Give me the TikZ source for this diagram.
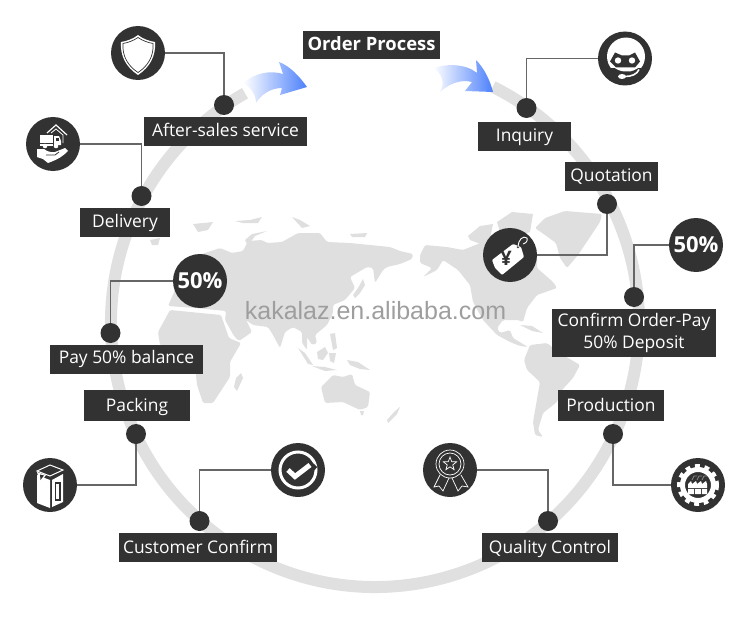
\documentclass[tikz,border=0pt]{standalone}
\usepackage{fontspec}
\setmainfont{Open Sans}
\newfontfamily\markfont{Liberation Sans}
\usepackage{xcolor}
\definecolor{boxdark}{HTML}{323232}
\definecolor{ringgray}{HTML}{E0E0E0}
\definecolor{mapgray}{HTML}{DFDFDF}
\definecolor{linkgray}{HTML}{666666}
\definecolor{arrowblue}{HTML}{4C80FB}
\definecolor{arrowsky}{HTML}{9CCBFA}
\tikzset{
	lbl/.style={fill=boxdark, text=white, inner sep=0pt, minimum width=#1, minimum height=29pt, align=center, font=\fontsize{17.4}{22}\selectfont},
	single/.style={lbl=#1, text height=14pt, text depth=4pt},
	icon/.style={circle, fill=boxdark, text=white, inner sep=0pt, minimum size=54pt, font=\fontsize{22}{22}\selectfont\bfseries},
	dot/.style={circle, fill=boxdark, inner sep=0pt, minimum size=20pt},
	link/.style={draw=linkgray, line width=1.2pt},
	flow/.style={left color=white, middle color=arrowsky, right color=arrowblue},
}
\begin{document}
\begin{tikzpicture}[x=1pt, y=-1pt]
		\useasboundingbox (0,0) rectangle (750,618);
		% world map
		\fill[mapgray, rounded corners=1.5pt] (190,258) -- (220,248) -- (232,253) -- (243,251) -- (248,241) -- (262,240) -- (267,243) -- (282,242) -- (298,233) -- (320,233) -- (327,242) -- (350,243) -- (370,245) -- (390,247) -- (400,251) -- (413,254) -- (412,259) -- (400,264) -- (387,267) -- (383,270) -- (375,283) -- (373,268) -- (367,267) -- (350,277) -- (355,288) -- (345,300) -- (333,305) -- (333,313) -- (327,325) -- (315,335) -- (317,343) -- (312,345) -- (307,337) -- (307,350) -- (302,343) -- (302,332) -- (293,327) -- (285,332) -- (280,348) -- (273,335) -- (268,327) -- (253,325) -- (246,320) -- (252,332) -- (239,341) -- (234,336) -- (225,320) -- (226,311) -- (195,308) -- (168,306) -- (175,290) -- cycle;
		\fill[mapgray, rounded corners=1.5pt] (170,310) -- (221,315) -- (229,338) -- (241,343) -- (230,362) -- (230,377) -- (213,403) -- (203,403) -- (197,385) -- (195,365) -- (180,358) -- (160,345) -- (158,332) -- cycle;
		\fill[mapgray] (241,373) -- (243,378) -- (237,391) -- (234,387) -- (236,378) -- cycle;
		\fill[mapgray] (193,224) -- (213,222) -- (208,230) -- (198,232) -- cycle;
		\fill[mapgray] (235,221) -- (250,220) -- (262,217) -- (258,223) -- (243,223) -- cycle;
		\fill[mapgray] (292,217) -- (300,220) -- (310,226) -- (302,228) -- cycle;
		\fill[mapgray] (350,234) -- (367,233) -- (365,237) -- (352,237) -- cycle;
		\fill[mapgray] (245,240) -- (252,234) -- (267,231) -- (255,236) -- (248,246) -- cycle;
		\fill[mapgray] (150,240) -- (160,238) -- (158,245) -- (152,245) -- cycle;
		% islands of the east
		\fill[mapgray] (298,348) -- (305,353) -- (313,365) -- (308,364) -- cycle;
		\fill[mapgray] (312,366) -- (325,367) -- (337,370) -- (325,371) -- cycle;
		\fill[mapgray] (317,352) -- (325,347) -- (328,353) -- (323,360) -- (318,359) -- cycle;
		\fill[mapgray] (330,334) -- (335,333) -- (337,348) -- (333,350) -- cycle;
		\fill[mapgray] (329,353) -- (336,353) -- (334,363) -- (330,361) -- cycle;
		\fill[mapgray] (347,360) -- (358,362) -- (370,370) -- (360,369) -- (350,365) -- cycle;
		\fill[mapgray] (363,279) -- (365,285) -- (360,293) -- (355,298) -- (353,295) -- (358,288) -- cycle;
		\fill[mapgray, rounded corners=1.5pt] (321,387) -- (333,375) -- (343,377) -- (352,374) -- (355,385) -- (370,392) -- (368,407) -- (360,410) -- (343,402) -- (325,403) -- cycle;
		\fill[mapgray] (360,411) -- (364,411) -- (363,415) -- (361,415) -- cycle;
		\fill[mapgray] (400,407) -- (397,414) -- (388,423) -- (387,420) -- (395,411) -- cycle;
		% the other side
		\fill[mapgray, rounded corners=1.5pt] (420,255) -- (425,245) -- (447,247) -- (463,250) -- (483,242) -- (510,240) -- (537,255) -- (537,268) -- (553,282) -- (557,288) -- (537,295) -- (527,308) -- (523,322) -- (518,320) -- (503,320) -- (497,328) -- (500,333) -- (510,330) -- (513,338) -- (528,347) -- (520,346) -- (510,342) -- (497,335) -- (483,320) -- (473,302) -- (470,285) -- (458,270) -- (443,260) -- (437,270) -- (423,277) -- (432,268) -- (420,263) -- cycle;
		\fill[mapgray] (468,236) -- (480,226) -- (493,224) -- (490,238) -- (483,245) -- (470,240) -- cycle;
		\fill[mapgray] (497,222) -- (512,212) -- (533,214) -- (530,232) -- (510,240) -- (500,232) -- cycle;
		\fill[mapgray, rounded corners=1.5pt] (535,228) -- (545,218) -- (565,211) -- (602,214) -- (600,222) -- (590,237) -- (578,255) -- (567,268) -- (560,258) -- (556,243) -- (545,235) -- cycle;
		\fill[mapgray] (520,325) -- (532,326) -- (543,333) -- (532,331) -- cycle;
		\fill[mapgray, rounded corners=1.5pt] (524,360) -- (530,345) -- (547,343) -- (558,352) -- (580,365) -- (573,378) -- (562,390) -- (557,402) -- (543,413) -- (538,430) -- (543,437) -- (535,435) -- (533,422) -- (540,382) -- (527,370) -- cycle;
		% ring
		\draw[ringgray, line width=12pt] (375,323) ++(-63.5:264) arc (-63.5:240.5:264);
		% arrows
		\shade[flow] (243,83) .. controls (255,73) and (270,70) .. (283,74) -- (279,62) .. controls (290,66) and (300,77) .. (307,87) -- (280,95) -- (282,88) .. controls (270,88) and (261,95) .. (256,103) .. controls (256,96) and (252,88) .. (243,83) -- cycle;
		\shade[flow] (433,68) .. controls (445,64) and (465,63) .. (477,73) -- (476,60) .. controls (484,68) and (490,80) .. (493,92) -- (465,91) -- (472,82) .. controls (460,79) and (449,84) .. (440,92) .. controls (445,84) and (443,74) .. (433,68) -- cycle;
		\node[text=black!38, font=\markfont\fontsize{25}{25}\selectfont] (mark) at (375.5,311) {kakalaz.en.alibaba.com};
		% titles
		\node[single=137pt, minimum height=28pt, text height=15pt, font=\fontsize{18.4}{23}\selectfont\bfseries] (order) at (371.5,45) {Order Process};
		\node[single=163pt] (after) at (225.5,131) {After-sales service};
		\node[single=90pt] (delivery) at (125,222.5) {Delivery};
		\node[single=153pt, text height=12pt] (balance) at (126.5,359.5) {Pay 50\% balance};
		\node[single=106pt, minimum height=31pt, text height=16pt] (packing) at (137,405.5) {Packing};
		\node[single=158pt, text height=16pt] (customer) at (198,547.5) {Customer Confirm};
		\node[single=136pt, text height=16pt] (quality) at (550,547.5) {Quality Control};
		\node[single=106pt, minimum height=31pt, text height=16pt] (production) at (611,405.5) {Production};
		\node[lbl=164pt, minimum height=48pt] (confirm) at (634,333) {Confirm Order-Pay\\50\% Deposit};
		\node[single=93pt, text height=13pt] (quotation) at (611.5,176.5) {Quotation};
		\node[single=93pt] (inquiry) at (524.5,136.5) {Inquiry};
		% icons and dots
		\node[icon] (shield) at (138,53) {};
		\node[icon] (truck) at (53,144) {};
		\node[icon] (halfleft) at (200,281) {50\%};
		\node[icon] (carton) at (50,485) {};
		\node[icon] (tick) at (298,470) {};
		\node[icon] (medal) at (450,470) {};
		\node[icon] (factory) at (698,485) {};
		\node[icon] (halfright) at (696,245) {50\%};
		\node[icon] (tag) at (510,255) {};
		\node[icon] (headset) at (625,58.5) {};
		\node[dot] (dotafter) at (224,105) {};
		\node[dot] (dotdelivery) at (141.5,196) {};
		\node[dot] (dotbalance) at (110.5,333) {};
		\node[dot] (dotpacking) at (136,434) {};
		\node[dot] (dotcustomer) at (199.5,521) {};
		\node[dot] (dotquality) at (548,521) {};
		\node[dot] (dotproduction) at (613,434) {};
		\node[dot] (dotconfirm) at (634,297) {};
		\node[dot] (dotquotation) at (607,204) {};
		\node[dot] (dotinquiry) at (526.5,108) {};
		\draw[link] (dotafter) |- (shield);
		\draw[link] (dotdelivery) |- (truck);
		\draw[link] (dotbalance) |- (halfleft);
		\draw[link] (dotpacking) |- (carton);
		\draw[link] (dotcustomer) |- (tick);
		\draw[link] (dotquality) |- (medal);
		\draw[link] (dotproduction) |- (factory);
		\draw[link] (dotconfirm) |- (halfright);
		\draw[link] (dotquotation) |- (tag);
		\draw[link] (dotinquiry) |- (headset);
		% shield
		\begin{scope}[shift={(shield)}]
			\fill[white] (0,-18) .. controls (-5,-14) and (-11,-12) .. (-17,-11) .. controls (-18,3) and (-12,14) .. (0,22) .. controls (12,14) and (18,3) .. (17,-11) .. controls (11,-12) and (5,-14) .. (0,-18) -- cycle;
			\draw[boxdark, line width=0.7pt] (0,-15.5) .. controls (-5,-12) and (-10,-10.5) .. (-15,-9.5) .. controls (-16,3) and (-10,13) .. (0,19.5) .. controls (10,13) and (16,3) .. (15,-9.5) .. controls (10,-10.5) and (5,-12) .. (0,-15.5) -- cycle;
		\end{scope}
		% truck in a hand
		\begin{scope}[shift={(truck)}]
			\draw[white, line width=1.2pt] (-6,-11) -- (3,-19) -- (14,-9);
			\draw[white, line width=0.8pt] (-2,-11) -- (3,-15) -- (10,-9) -- (10,-1);
			\fill[white] (-13,-9) rectangle (0,-1);
			\fill[white] (1,-8) -- (6,-8) -- (8,-3) -- (8,1) -- (1,1) -- cycle;
			\fill[white] (-13,0) rectangle (0,1.5);
			\fill[white] (-8,2) circle (2.3) (3,2) circle (2.3);
			\fill[boxdark] (3,-6.5) rectangle (5.5,-3.5);
			\fill[white] (-16,5) -- (-9,5) .. controls (-6,7) and (-4,8) .. (-2,8) -- (2,8) -- (12,4) -- (15,7) .. controls (10,12) and (6,15) .. (-5,19) -- (-10,15) -- (-16,13) -- cycle;
			\draw[boxdark, line width=0.8pt] (-7,11) -- (2,11) -- (6,8);
		\end{scope}
		% carton
		\begin{scope}[shift={(carton)}]
			\fill[white] (-13,-10) -- (0,-5) -- (0,23) -- (-13,18) -- cycle;
			\fill[white] (2,-5) -- (13,-11) -- (13,17) -- (2,22) -- cycle;
			\draw[white, line width=1pt] (-13,-14) -- (0,-20) -- (13,-15) -- (0,-9) -- cycle;
			\fill[white] (-13,-13) -- (-4,-10) -- (-10,-2) -- cycle;
			\fill[boxdark] (-10,-10.5) -- (-6,-9.5) -- (-9.5,-5) -- cycle;
			\draw[boxdark, line width=1.2pt] (5.5,-2) rectangle (10,15);
		\end{scope}
		% tick
		\begin{scope}[shift={(tick)}]
			\draw[white, line width=3pt] (0,0) circle (18);
			\draw[boxdark, line width=9pt] (4,7) -- (16,-6);
			\draw[white, line width=5pt] (-10,0) -- (-3,6.5) -- (12,-5);
		\end{scope}
		% medal
		\begin{scope}[shift={(medal)}]
			\draw[white, line width=0.7pt] (0,-6) circle (14) (0,-6) circle (11);
			\draw[white, line width=0.7pt] (0,-13) -- (1.7,-8.35) -- (6.66,-8.16) -- (2.76,-5.1) -- (4.11,-0.34) -- (0,-3.1) -- (-4.11,-0.34) -- (-2.76,-5.1) -- (-6.66,-8.16) -- (-1.7,-8.35) -- cycle;
			\draw[white, line width=0.7pt] (-10,5) -- (-16,17) -- (-11,16) -- (-7,21) -- (-1,8);
			\draw[white, line width=0.7pt] (2,8) -- (8,21) -- (12,16) -- (18,17) -- (11,5);
		\end{scope}
		% factory in a gear
		\begin{scope}[shift={(factory)}]
			\draw[white, line width=5pt] (0,0) circle (15.5);
			\draw[white, line width=4pt, dash pattern=on 4.8pt off 4.8pt] (0,0) circle (19);
			\draw[black!45, line width=0.7pt] (-6,-5) -- (-4,-9) -- (-1,-9) (-1,-5) -- (1,-9) -- (4,-9) (4,-5) -- (6,-9) -- (9,-9);
			\fill[white] (-10,-1) -- (-7,-4) -- (-6,-1) -- (-2,-4) -- (-1,-1) -- (3,-4) -- (4,-1) -- (8,-4) -- (9,-1) -- (9,3) -- (-10,3) -- cycle;
			\fill[white] (-10,4) rectangle (-4,9) (-3,4) rectangle (3,9) (4,4) rectangle (9,9);
		\end{scope}
		% tag
		\begin{scope}[shift={(tag)}]
			\fill[white, rounded corners=1pt] (-18,5) -- (3,-11) -- (11,-8) -- (14,2) -- (-8,20) -- (-15,13) -- cycle;
			\fill[boxdark] (8,-8) circle (1.4);
			\draw[white, line width=0.9pt] (8,-8) .. controls (8,-15) and (13,-20) .. (17,-17) .. controls (18,-14) and (16,-12) .. (13,-11);
			\node[text=boxdark, inner sep=0pt, font=\fontsize{20}{20}\selectfont\bfseries] (yen) at (-4,3) {¥};
		\end{scope}
		% headset
		\begin{scope}[shift={(headset)}]
			\fill[white] (1,-2) circle (19);
			\fill[boxdark] (-18,10) -- (20,10) -- (20,18) -- (-18,18) -- cycle;
			\fill[white] (-14,6) .. controls (-10,11) and (-4,13) .. (0,13) -- (5,13) .. controls (10,12) and (15,9) .. (18,4) -- (18,-3) -- (-17,-3) -- cycle;
			\fill[boxdark] (-10,-6) -- (-3,-3) -- (4,-3) -- (10,-6) -- (15,3) -- (10,9) -- (-9,9) -- (-15,3) -- cycle;
			\fill[white] (-7,2) circle (3.2) (7,2) circle (3.2);
			\draw[white, line width=1.6pt] (14,11) .. controls (12,16) and (6,18) .. (0,18);
			\fill[white] (-3,18) ellipse (4 and 2.5);
		\end{scope}
	\end{tikzpicture}
\end{document}
